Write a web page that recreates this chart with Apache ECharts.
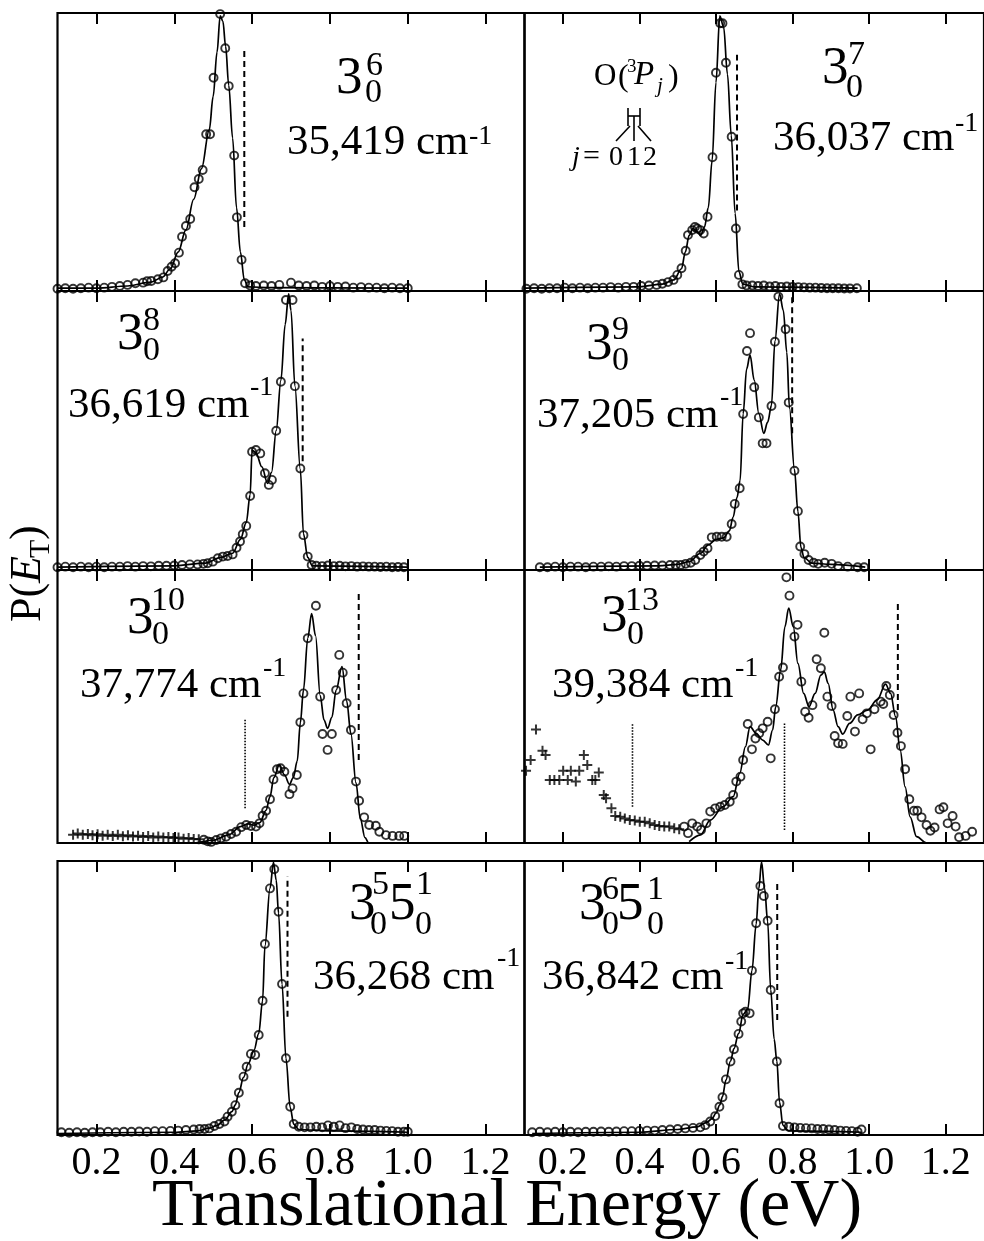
<!DOCTYPE html>
<html><head><meta charset="utf-8">
<script src="https://cdn.jsdelivr.net/npm/echarts@6/dist/echarts.min.js"></script>
<style>html,body{margin:0;padding:0;background:#fff}#c{width:984px;height:1241px}</style>
</head><body><div id="c"></div>
<script>
const X_TICKS = [0.2, 0.4, 0.6, 0.8, 1.0, 1.2];

// Panel 1: 3_0^6, 35,419 cm-1
const P1_CIRCLES = [[0.10,0.008],[0.12,0.01],[0.14,0.008],[0.16,0.01],[0.18,0.012],[0.20,0.01],[0.22,0.012],[0.24,0.015],[0.26,0.018],[0.28,0.022],[0.30,0.028],[0.32,0.03],[0.33,0.035],
 [0.341,0.036],[0.358,0.042],[0.372,0.049],[0.383,0.072],[0.393,0.087],[0.402,0.10],[0.412,0.138],[0.42,0.195],[0.43,0.234],[0.441,0.259],[0.452,0.373],[0.463,0.403],[0.473,0.435],[0.482,0.564],[0.492,0.564],[0.501,0.767],[0.518,0.996],[0.531,0.873],[0.54,0.737],[0.554,0.487],[0.561,0.265],[0.573,0.112],[0.582,0.028],
 [0.595,0.02],[0.61,0.018],[0.63,0.02],[0.65,0.018],[0.67,0.022],[0.70,0.03],[0.72,0.02],[0.74,0.018],[0.76,0.02],[0.78,0.015],[0.80,0.018],[0.82,0.015],[0.84,0.016],[0.86,0.012],[0.88,0.014],[0.90,0.012],[0.92,0.012],[0.94,0.01],[0.96,0.012],[0.98,0.01],[1.00,0.01]];
const P1_FIT = [[0.10,0.01],[0.20,0.01],[0.28,0.018],[0.34,0.032],[0.37,0.05],[0.39,0.08],[0.41,0.14],[0.43,0.22],[0.45,0.33],[0.47,0.44],[0.49,0.58],[0.50,0.70],[0.51,0.86],[0.518,0.99],[0.525,0.97],[0.532,0.88],[0.54,0.74],[0.55,0.55],[0.56,0.30],[0.57,0.14],[0.58,0.04],[0.59,0.015],[0.65,0.012],[1.0,0.01]];
const P1_DASH = [[0.580,0.23],[0.580,0.87]];

// Panel 2: 3_0^7, 36,037 cm-1
const P2_CIRCLES = [[0.105,0.008],[0.125,0.01],[0.145,0.008],[0.165,0.01],[0.185,0.01],[0.205,0.012],[0.225,0.01],[0.245,0.012],[0.265,0.01],[0.285,0.012],[0.305,0.012],[0.325,0.014],[0.345,0.012],[0.365,0.015],[0.385,0.015],[0.405,0.018],[0.425,0.02],[0.445,0.022],[0.46,0.026],[0.475,0.032],
 [0.489,0.04],[0.499,0.058],[0.51,0.082],[0.521,0.145],[0.527,0.201],[0.538,0.219],[0.545,0.23],[0.551,0.225],[0.559,0.219],[0.568,0.207],[0.578,0.267],[0.591,0.481],[0.60,0.785],[0.611,0.963],[0.617,0.963],[0.626,0.821],[0.641,0.555],[0.652,0.225],[0.66,0.058],[0.669,0.024],
 [0.68,0.02],[0.695,0.02],[0.71,0.018],[0.725,0.02],[0.74,0.016],[0.755,0.018],[0.77,0.015],[0.785,0.016],[0.80,0.015],[0.815,0.014],[0.83,0.013],[0.845,0.012],[0.86,0.012],[0.875,0.011],[0.89,0.01],[0.905,0.01],[0.92,0.01],[0.935,0.009],[0.95,0.009],[0.968,0.01]];
const P2_FIT = [[0.10,0.01],[0.40,0.015],[0.46,0.025],[0.49,0.04],[0.51,0.08],[0.52,0.14],[0.53,0.20],[0.54,0.225],[0.55,0.215],[0.56,0.20],[0.57,0.23],[0.58,0.30],[0.59,0.47],[0.60,0.75],[0.61,0.99],[0.62,0.95],[0.63,0.78],[0.64,0.56],[0.65,0.28],[0.66,0.07],[0.67,0.025],[0.70,0.015],[0.97,0.01]];
const P2_DASH = [[0.655,0.29],[0.655,0.85]];

// Panel 3: 3_0^8, 36,619 cm-1
const P3_CIRCLES = [[0.10,0.01],[0.12,0.012],[0.14,0.01],[0.16,0.012],[0.18,0.01],[0.20,0.012],[0.22,0.01],[0.24,0.012],[0.26,0.012],[0.28,0.014],[0.30,0.012],[0.32,0.014],[0.34,0.013],[0.36,0.015],[0.38,0.015],[0.40,0.016],[0.42,0.018],[0.44,0.02],[0.46,0.02],[0.475,0.022],
 [0.486,0.024],[0.499,0.03],[0.512,0.042],[0.525,0.048],[0.537,0.05],[0.55,0.056],[0.56,0.08],[0.569,0.102],[0.576,0.128],[0.585,0.158],[0.595,0.265],[0.60,0.424],[0.61,0.43],[0.621,0.418],[0.633,0.347],[0.643,0.305],[0.651,0.323],[0.662,0.499],[0.674,0.675],[0.687,0.968],[0.704,0.968],[0.71,0.659],[0.724,0.364],[0.732,0.125],[0.743,0.048],[0.753,0.018],
 [0.765,0.015],[0.78,0.014],[0.795,0.016],[0.81,0.014],[0.825,0.015],[0.84,0.013],[0.855,0.014],[0.87,0.012],[0.885,0.013],[0.90,0.012],[0.915,0.012],[0.93,0.011],[0.945,0.012],[0.96,0.01],[0.975,0.011],[0.99,0.01]];
const P3_FIT = [[0.10,0.01],[0.40,0.015],[0.48,0.025],[0.52,0.045],[0.55,0.06],[0.57,0.11],[0.585,0.17],[0.595,0.27],[0.60,0.43],[0.61,0.42],[0.625,0.37],[0.64,0.31],[0.65,0.35],[0.662,0.50],[0.674,0.68],[0.685,0.88],[0.694,0.99],[0.70,0.93],[0.71,0.66],[0.724,0.36],[0.732,0.13],[0.743,0.045],[0.755,0.015],[1.0,0.01]];
const P3_DASH = [[0.730,0.39],[0.730,0.83]];

// Panel 4: 3_0^9, 37,205 cm-1
const P4_CIRCLES = [[0.14,0.01],[0.16,0.01],[0.18,0.012],[0.20,0.01],[0.22,0.012],[0.24,0.012],[0.26,0.01],[0.28,0.012],[0.30,0.012],[0.32,0.013],[0.34,0.012],[0.36,0.014],[0.38,0.014],[0.40,0.015],[0.42,0.015],[0.44,0.016],[0.46,0.016],[0.48,0.018],[0.495,0.018],
 [0.508,0.018],[0.521,0.022],[0.534,0.026],[0.546,0.036],[0.559,0.054],[0.568,0.066],[0.578,0.078],[0.589,0.117],[0.602,0.119],[0.615,0.119],[0.628,0.119],[0.641,0.165],[0.649,0.237],[0.662,0.293],[0.671,0.559],[0.681,0.785],[0.689,0.849],[0.70,0.655],[0.712,0.547],[0.722,0.454],[0.732,0.454],[0.745,0.588],[0.754,0.818],[0.763,0.98],[0.782,0.863],[0.79,0.60],[0.805,0.356],[0.814,0.211],[0.82,0.084],[0.831,0.057],[0.842,0.036],[0.855,0.026],[0.867,0.022],[0.884,0.026],[0.902,0.022],[0.919,0.014],[0.944,0.012],[0.97,0.01],[0.987,0.01]];
const P4_FIT = [[0.14,0.01],[0.45,0.015],[0.50,0.02],[0.53,0.03],[0.56,0.06],[0.58,0.09],[0.60,0.11],[0.62,0.115],[0.635,0.14],[0.645,0.19],[0.655,0.26],[0.663,0.32],[0.671,0.56],[0.68,0.72],[0.689,0.77],[0.70,0.68],[0.712,0.56],[0.725,0.49],[0.735,0.53],[0.745,0.59],[0.754,0.82],[0.766,0.99],[0.776,0.93],[0.785,0.78],[0.792,0.58],[0.805,0.36],[0.814,0.21],[0.822,0.08],[0.83,0.045],[0.85,0.025],[0.90,0.02],[0.99,0.01]];
const P4_DASH = [[0.799,0.49],[0.799,0.98]];

// Panel 5: 3_0^10, 37,774 cm-1
const P5_CROSSES = [[0.14,0.03],[0.152,0.035],[0.165,0.03],[0.178,0.033],[0.19,0.028],[0.203,0.032],[0.216,0.027],[0.229,0.03],[0.242,0.026],[0.255,0.03],[0.268,0.025],[0.281,0.028],[0.294,0.024],[0.307,0.027],[0.32,0.022],[0.333,0.026],[0.346,0.02],[0.359,0.024],[0.372,0.02],[0.385,0.022],[0.398,0.018],[0.411,0.02],[0.424,0.016],[0.437,0.018],[0.45,0.015],[0.463,0.014]];
const P5_CIRCLES = [[0.476,0.012],[0.486,0.006],[0.495,0.004],[0.508,0.011],[0.52,0.017],[0.533,0.023],[0.546,0.033],[0.559,0.041],[0.572,0.058],[0.585,0.066],[0.597,0.062],[0.61,0.06],[0.619,0.072],[0.627,0.10],[0.636,0.118],[0.646,0.16],[0.655,0.233],[0.664,0.27],[0.673,0.274],[0.683,0.261],[0.696,0.179],[0.704,0.20],[0.715,0.249],[0.724,0.442],[0.732,0.548],[0.743,0.75],[0.764,0.869],[0.775,0.536],[0.781,0.399],[0.794,0.341],[0.805,0.399],[0.816,0.56],[0.824,0.689],[0.833,0.624],[0.843,0.512],[0.854,0.414],[0.867,0.225],[0.875,0.155],[0.888,0.094],[0.901,0.066],[0.918,0.063],[0.927,0.041],[0.944,0.029],[0.961,0.026],[0.978,0.026],[0.991,0.026]];
const P5_FIT = [[0.14,0.0],[0.45,0.0],[0.50,0.01],[0.54,0.03],[0.57,0.06],[0.59,0.07],[0.605,0.065],[0.62,0.075],[0.636,0.12],[0.646,0.17],[0.656,0.24],[0.67,0.286],[0.683,0.25],[0.696,0.215],[0.706,0.24],[0.716,0.30],[0.724,0.44],[0.732,0.56],[0.743,0.75],[0.753,0.84],[0.763,0.76],[0.775,0.54],[0.785,0.45],[0.794,0.42],[0.805,0.46],[0.816,0.56],[0.831,0.646],[0.843,0.52],[0.854,0.40],[0.867,0.22],[0.878,0.09],[0.89,0.02],[0.90,0.0],[0.95,0.0]];
const P5_DASH = [[0.874,0.304],[0.874,0.915]];
const P5_DOT = [[0.582,0.127],[0.582,0.457]];

// Panel 6: 3_0^13, 39,384 cm-1
const P6_CROSSES = [[0.104,0.265],[0.116,0.304],[0.130,0.416],[0.147,0.338],[0.155,0.322],[0.166,0.231],[0.178,0.231],[0.191,0.231],[0.201,0.265],[0.213,0.231],[0.221,0.265],[0.234,0.225],[0.243,0.265],[0.255,0.322],[0.264,0.286],[0.277,0.231],[0.285,0.231],[0.294,0.258],[0.307,0.176],[0.313,0.164],[0.327,0.127],[0.337,0.099],[0.350,0.096],[0.362,0.090],[0.375,0.084],[0.388,0.082],[0.401,0.078],[0.414,0.078],[0.427,0.072],[0.440,0.066],[0.452,0.062],[0.465,0.060],[0.478,0.060],[0.491,0.054],[0.504,0.050]];
const P6_CIRCLES = [[0.517,0.060],[0.527,0.036],[0.538,0.072],[0.551,0.060],[0.561,0.048],[0.575,0.072],[0.585,0.115],[0.598,0.127],[0.611,0.133],[0.623,0.139],[0.636,0.151],[0.645,0.176],[0.653,0.225],[0.664,0.243],[0.671,0.304],[0.683,0.436],[0.694,0.343],[0.703,0.383],[0.713,0.402],[0.722,0.420],[0.735,0.444],[0.743,0.310],[0.754,0.490],[0.765,0.609],[0.775,0.643],[0.784,0.973],[0.792,0.906],[0.805,0.756],[0.813,0.799],[0.823,0.591],[0.833,0.481],[0.842,0.459],[0.852,0.505],[0.863,0.673],[0.874,0.640],[0.883,0.770],[0.891,0.536],[0.902,0.502],[0.910,0.392],[0.919,0.365],[0.931,0.363],[0.943,0.465],[0.951,0.536],[0.963,0.408],[0.974,0.548],[0.983,0.453],[0.994,0.475],[1.004,0.343],[1.014,0.490],[1.030,0.518],[1.037,0.509],[1.045,0.575],[1.054,0.542],[1.064,0.469],[1.074,0.404],[1.083,0.355],[1.094,0.270],[1.105,0.160],[1.117,0.118],[1.126,0.118],[1.137,0.094],[1.150,0.066],[1.160,0.045],[1.171,0.057],[1.184,0.123],[1.194,0.131],[1.205,0.072],[1.218,0.099],[1.226,0.060],[1.235,0.021],[1.252,0.026],[1.269,0.041]];
const P6_FIT = [[0.53,0.005],[0.56,0.03],[0.585,0.084],[0.619,0.133],[0.645,0.170],[0.662,0.255],[0.677,0.353],[0.689,0.426],[0.705,0.402],[0.722,0.377],[0.737,0.359],[0.748,0.414],[0.756,0.499],[0.769,0.634],[0.780,0.792],[0.790,0.860],[0.802,0.792],[0.814,0.658],[0.829,0.548],[0.843,0.499],[0.859,0.548],[0.874,0.615],[0.883,0.627],[0.893,0.585],[0.906,0.487],[0.919,0.426],[0.931,0.399],[0.949,0.438],[0.970,0.469],[0.996,0.487],[1.021,0.524],[1.043,0.582],[1.056,0.548],[1.069,0.463],[1.081,0.341],[1.094,0.206],[1.107,0.096],[1.124,0.023],[1.150,0.0],[1.28,0.0]];
const P6_DASH = [[1.075,0.487],[1.075,0.878]];
const P6_DOT_A = [[0.382,0.133],[0.382,0.438]];
const P6_DOT_B = [[0.779,0.048],[0.779,0.438]];

// Panel 7: 3_0^5 5_0^1, 36,268 cm-1
const P7_CIRCLES = [[0.11,0.01],[0.13,0.008],[0.15,0.01],[0.17,0.008],[0.19,0.01],[0.21,0.01],[0.23,0.012],[0.25,0.01],[0.27,0.012],[0.29,0.012],[0.31,0.013],[0.33,0.012],[0.35,0.014],[0.37,0.014],[0.39,0.015],[0.41,0.016],[0.43,0.018],[0.45,0.02],[0.465,0.022],[0.478,0.022],
 [0.49,0.024],[0.503,0.033],[0.516,0.04],[0.529,0.049],[0.537,0.067],[0.548,0.085],[0.557,0.109],[0.566,0.154],[0.578,0.213],[0.586,0.249],[0.597,0.296],[0.608,0.292],[0.617,0.365],[0.627,0.49],[0.633,0.697],[0.646,0.90],[0.657,0.97],[0.668,0.815],[0.677,0.551],[0.687,0.28],[0.698,0.103],[0.707,0.04],
 [0.72,0.03],[0.735,0.028],[0.75,0.028],[0.765,0.03],[0.78,0.028],[0.795,0.035],[0.81,0.03],[0.825,0.035],[0.84,0.025],[0.855,0.028],[0.87,0.022],[0.885,0.02],[0.90,0.018],[0.915,0.018],[0.93,0.016],[0.945,0.015],[0.96,0.014],[0.975,0.012],[0.99,0.012],[1.0,0.012]];
const P7_FIT = [[0.10,0.005],[0.40,0.01],[0.46,0.015],[0.49,0.025],[0.51,0.035],[0.53,0.055],[0.548,0.085],[0.557,0.11],[0.566,0.155],[0.578,0.21],[0.59,0.26],[0.605,0.31],[0.617,0.37],[0.627,0.49],[0.633,0.69],[0.646,0.90],[0.655,0.995],[0.662,0.93],[0.668,0.81],[0.677,0.55],[0.687,0.28],[0.698,0.10],[0.707,0.04],[0.72,0.02],[0.80,0.015],[1.0,0.01]];
const P7_DASH = [[0.691,0.432],[0.691,0.943]];

// Panel 8: 3_0^6 5_0^1, 36,842 cm-1
const P8_CIRCLES = [[0.12,0.01],[0.14,0.012],[0.16,0.01],[0.18,0.012],[0.20,0.01],[0.22,0.012],[0.24,0.01],[0.26,0.012],[0.28,0.012],[0.30,0.013],[0.32,0.012],[0.34,0.013],[0.36,0.014],[0.38,0.014],[0.40,0.015],[0.42,0.016],[0.44,0.016],[0.46,0.018],[0.48,0.02],[0.50,0.022],[0.52,0.024],[0.54,0.026],
 [0.559,0.028],[0.572,0.036],[0.585,0.049],[0.598,0.069],[0.609,0.103],[0.617,0.138],[0.626,0.203],[0.638,0.268],[0.647,0.313],[0.659,0.369],[0.666,0.414],[0.671,0.444],[0.677,0.45],[0.688,0.444],[0.694,0.60],[0.705,0.773],[0.716,0.909],[0.725,0.872],[0.735,0.782],[0.743,0.529],[0.759,0.268],[0.766,0.116],[0.775,0.033],
 [0.79,0.03],[0.805,0.028],[0.82,0.026],[0.835,0.025],[0.85,0.024],[0.865,0.022],[0.88,0.022],[0.895,0.02],[0.91,0.018],[0.925,0.016],[0.94,0.015],[0.955,0.014],[0.97,0.012],[0.98,0.02]];
const P8_FIT = [[0.12,0.005],[0.40,0.01],[0.50,0.02],[0.55,0.03],[0.575,0.045],[0.59,0.06],[0.60,0.08],[0.61,0.11],[0.617,0.14],[0.626,0.20],[0.638,0.27],[0.647,0.315],[0.659,0.37],[0.671,0.44],[0.683,0.46],[0.694,0.60],[0.705,0.77],[0.712,0.90],[0.719,0.997],[0.727,0.90],[0.735,0.78],[0.743,0.53],[0.752,0.35],[0.759,0.27],[0.766,0.12],[0.775,0.035],[0.79,0.015],[0.98,0.01]];
const P8_DASH = [[0.760,0.42],[0.760,0.93]];

// ---------- layout ----------
const COLS = [{left: 57.5, width: 467}, {left: 524.5, width: 467}];
const ROWS = [{top: 13, height: 278}, {top: 291, height: 279}, {top: 570, height: 273}, {top: 861, height: 274}];
const FONT = '"Liberation Serif", "Times New Roman", serif';

const panels = [
  {row:0, col:0, circles:P1_CIRCLES, fit:P1_FIT, dashed:[P1_DASH], dotted:[]},
  {row:0, col:1, circles:P2_CIRCLES, fit:P2_FIT, dashed:[P2_DASH], dotted:[]},
  {row:1, col:0, circles:P3_CIRCLES, fit:P3_FIT, dashed:[P3_DASH], dotted:[]},
  {row:1, col:1, circles:P4_CIRCLES, fit:P4_FIT, dashed:[P4_DASH], dotted:[]},
  {row:2, col:0, circles:P5_CIRCLES, crosses:P5_CROSSES, fit:P5_FIT, dashed:[P5_DASH], dotted:[P5_DOT]},
  {row:2, col:1, circles:P6_CIRCLES, crosses:P6_CROSSES, fit:P6_FIT, dashed:[P6_DASH], dotted:[P6_DOT_A, P6_DOT_B]},
  {row:3, col:0, circles:P7_CIRCLES, fit:P7_FIT, dashed:[P7_DASH], dotted:[]},
  {row:3, col:1, circles:P8_CIRCLES, fit:P8_FIT, dashed:[P8_DASH], dotted:[]}
];

const grid = [], xAxis = [], yAxis = [], series = [];
const PLUS = 'path://M3.2,0H4.8V3.2H8V4.8H4.8V8H3.2V4.8H0V3.2H3.2Z';
panels.forEach((p, i) => {
  grid.push({left: COLS[p.col].left, width: COLS[p.col].width, top: ROWS[p.row].top, height: ROWS[p.row].height,
    show: true, borderColor: '#000', borderWidth: 2.2, backgroundColor: 'transparent', containLabel: false});
  const tick = {show: true, inside: true, length: 11, customValues: X_TICKS, lineStyle: {color: '#000', width: 2}};
  xAxis.push({type: 'value', gridIndex: i, min: 0.1, max: 1.3, position: 'bottom',
    axisLine: {show: false}, splitLine: {show: false}, axisTick: tick,
    axisLabel: {show: p.row === 3, customValues: X_TICKS, formatter: v => v.toFixed(1), color: '#000',
      fontFamily: FONT, fontSize: 40, margin: 8}});
  xAxis.push({type: 'value', gridIndex: i, min: 0.1, max: 1.3, position: 'top',
    axisLine: {show: false}, splitLine: {show: false}, axisTick: tick, axisLabel: {show: false}});
  yAxis.push({type: 'value', gridIndex: i, min: 0, max: 1, show: false, splitLine: {show: false}});
  const ax = {xAxisIndex: 2 * i, yAxisIndex: i};
  series.push(Object.assign({type: 'line', data: p.fit, showSymbol: false, smooth: 0.35, smoothMonotone: 'x',
    lineStyle: {color: '#000', width: 1.7}, silent: true, z: 2, clip: false}, ax));
  series.push(Object.assign({type: 'scatter', data: p.circles, symbol: 'circle', symbolSize: 8,
    itemStyle: {color: 'rgba(0,0,0,0)', borderColor: '#000', borderWidth: 1.9}, silent: true, z: 3, clip: false}, ax));
  if (p.crosses) series.push(Object.assign({type: 'scatter', data: p.crosses, symbol: PLUS, symbolSize: 10,
    itemStyle: {color: '#000'}, silent: true, z: 3, clip: false}, ax));
  p.dashed.forEach(d => series.push(Object.assign({type: 'line', data: d, showSymbol: false,
    lineStyle: {color: '#000', width: 2, type: [6, 4]}, silent: true, z: 2}, ax)));
  p.dotted.forEach(d => series.push(Object.assign({type: 'line', data: d, showSymbol: false,
    lineStyle: {color: '#000', width: 1.6, type: [1.5, 1.5]}, silent: true, z: 2}, ax)));
});

// ---------- text ----------
function txt(x, base, s, size, italic) {
  return {type: 'text', silent: true, z: 10, style: {x: x, y: base - 0.34 * size, text: s,
    font: (italic ? 'italic ' : '') + size + 'px ' + FONT, fill: '#000', textAlign: 'left', textVerticalAlign: 'middle'}};
}
function ln(x1, y1, x2, y2) {
  return {type: 'line', silent: true, z: 10, shape: {x1, y1, x2, y2}, style: {stroke: '#000', lineWidth: 1.6}};
}
const BIG = 53, SS = 34, MAIN = 43, EXP = 28;
const graphic = [
  // panel 1
  txt(336, 97, '3', BIG), txt(366, 78, '6', SS), txt(365, 105, '0', SS),
  txt(287, 157, '35,419 cm', MAIN), txt(469, 146, '-1', EXP),
  // panel 2
  txt(822, 87, '3', BIG), txt(848, 67, '7', SS), txt(846, 100, '0', SS),
  txt(773, 153, '36,037 cm', MAIN), txt(955, 133, '-1', EXP),
  txt(594, 87, 'O', 31), txt(618, 88, '(', 32), txt(627, 73, '3', 19), txt(634, 87, 'P', 33, true),
  txt(657, 94, 'j', 21, true), txt(668, 88, ')', 32),
  ln(628, 108, 628, 126), ln(640, 108, 640, 126), ln(628, 116, 640, 116),
  ln(630, 126, 616, 141), ln(634, 116, 634, 141), ln(638, 126, 651, 141),
  txt(572, 167, 'j', 28, true), txt(583, 167, '=', 30), txt(609, 167, '0', 28), txt(627, 167, '1', 28), txt(643, 167, '2', 28),
  // panel 3
  txt(117, 353, '3', BIG), txt(143, 333, '8', SS), txt(143, 363, '0', SS),
  txt(68, 420, '36,619 cm', MAIN), txt(250, 397, '-1', EXP),
  // panel 4
  txt(586, 363, '3', BIG), txt(612, 342, '9', SS), txt(612, 373, '0', SS),
  txt(537, 430, '37,205 cm', MAIN), txt(720, 407, '-1', EXP),
  // panel 5
  txt(127, 637, '3', BIG), txt(151, 613, '10', SS), txt(152, 647, '0', SS),
  txt(80, 700, '37,774 cm', MAIN), txt(263, 678, '-1', EXP),
  // panel 6
  txt(601, 635, '3', BIG), txt(625, 613, '13', SS), txt(627, 647, '0', SS),
  txt(552, 700, '39,384 cm', MAIN), txt(735, 678, '-1', EXP),
  // panel 7
  txt(349, 923, '3', BIG), txt(372, 897, '5', SS), txt(370, 937, '0', SS),
  txt(389, 923, '5', BIG), txt(416, 897, '1', SS), txt(415, 937, '0', SS),
  txt(313, 992, '36,268 cm', MAIN), txt(497, 968, '-1', EXP),
  // panel 8
  txt(579, 923, '3', BIG), txt(602, 902, '6', SS), txt(602, 937, '0', SS),
  txt(617, 923, '5', BIG), txt(647, 902, '1', SS), txt(647, 937, '0', SS),
  txt(542, 992, '36,842 cm', MAIN), txt(725, 971, '-1', EXP),
  // axis titles
  {type: 'text', silent: true, style: {x: 507, y: 1230 - 0.34 * 68, text: 'Translational Energy (eV)',
    font: '68px ' + FONT, fill: '#000', textAlign: 'center', textVerticalAlign: 'middle'}},
  {type: 'group', x: 43, y: 622, rotation: Math.PI / 2, children: [
    txt(0, 0, 'P(', 44), txt(39, 0, 'E', 44, true), txt(64, 8, 'T', 30), txt(82, 0, ')', 44)
  ]}
];

const chart = echarts.init(document.getElementById('c'), null, {renderer: 'canvas'});
chart.setOption({animation: false, backgroundColor: '#fff', grid, xAxis, yAxis, series, graphic});
</script>
</body></html>
